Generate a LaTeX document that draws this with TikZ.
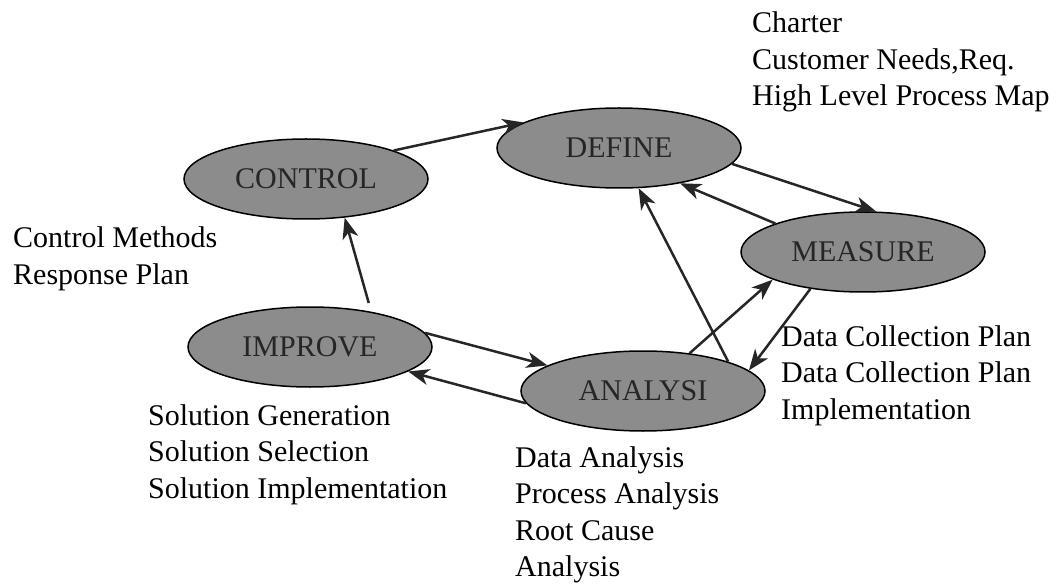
\documentclass[tikz,border=0pt]{standalone}
\usepackage{fontspec}
\setmainfont{Liberation Serif}
\usetikzlibrary{shapes.geometric, positioning, arrows.meta}

\begin{document}
\begin{tikzpicture}[x=1pt,y=1pt,on grid,
    phase/.style={ellipse,draw=black,line width=1.5pt,fill=black!45,
      minimum width=244pt,minimum height=80pt,inner sep=0pt,
      font=\fontsize{30}{36}\selectfont,text=black!85},
    notes/.style={align=left,anchor=base west,inner sep=0pt,
      font=\fontsize{30}{36.5}\selectfont},
    flow/.style={-{Stealth[length=21pt,width=16pt,inset=6pt]},line width=2.5pt,color=black!85}]
  \useasboundingbox (0,0) rectangle (1062,587);
  \node[phase] (define) at (619,439) {DEFINE};
  \node[phase] (control) [below left=31pt and 313pt of define] {CONTROL};
  \node[phase] (measure) [below right=104pt and 244pt of define] {MEASURE};
  \node[phase] (analysi) [below right=243pt and 24pt of define] {ANALYSI};
  \node[phase] (improve) [below left=199pt and 309pt of define] {IMPROVE};

  % notes sit on the baseline of their last line
  \node[notes] (charter) at (752,481) {Charter\\Customer Needs,Req.\\High Level Process Map};
  \node[notes] (methods) at (13,302.5) {Control Methods\\Response Plan};
  \node[notes] (solution) at (148,89) {Solution Generation\\Solution Selection\\Solution Implementation};
  \node[notes] (analysis) at (515,10.5) {Data Analysis\\Process Analysis\\Root Cause\\Analysis};
  \node[notes] (collection) at (781,168) {Data Collection Plan\\Data Collection Plan\\Implementation};

  \path[flow]
  (control.18)  edge (define.165)
  (define.-8)   edge (measure.72)
  (measure.162) edge (define.-30)
  (analysi.19)  edge (define.-64)
  (analysi.39)  edge (measure.197)
  (measure.215) edge (analysi.11)
  (improve.7)   edge (analysi.165)
  (analysi.186) edge (improve.-14)
  (improve.30)  edge[shorten <=9pt] (control.-45);
\end{tikzpicture}
\end{document}
